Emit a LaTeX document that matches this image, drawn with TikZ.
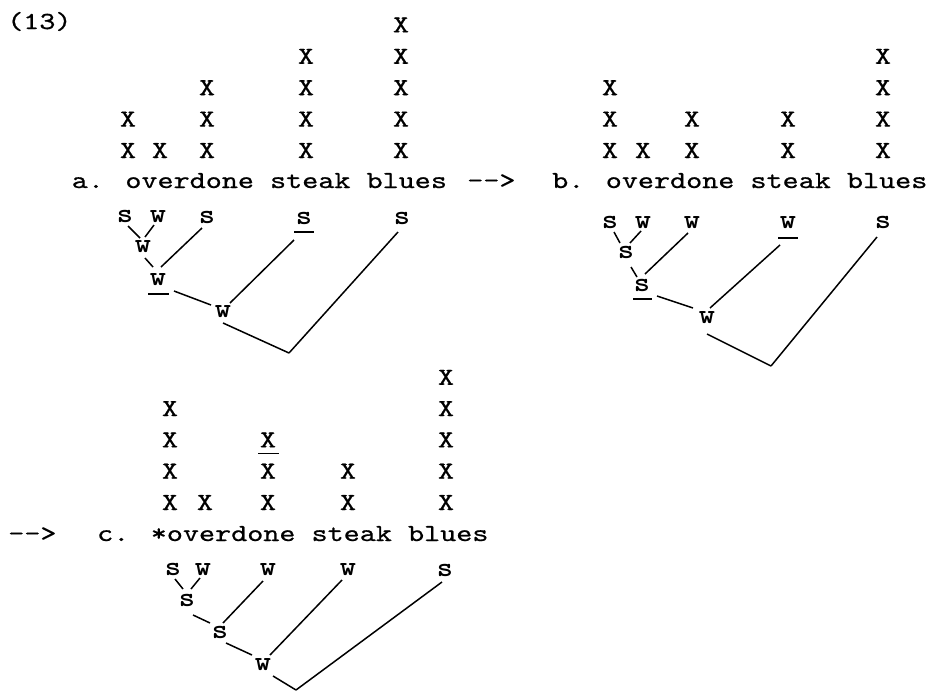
\documentclass[tikz,border=0pt]{standalone}
\usepackage{fontspec}
\usetikzlibrary{calc}
\newfontfamily\twfont{lmmono10-regular.otf}[FakeStretch=1.25,FakeBold=0.7]
\newfontfamily\twlab{lmmonolt10-bold.otf}[FakeStretch=1.12]
\tikzset{
  txt/.style={font={\twfont\fontsize{24.5}{28}\selectfont}, inner sep=0pt, anchor=base west},
  xm/.style={font={\twfont\fontsize{24.5}{28}\selectfont}, inner sep=0pt, anchor=base},
  lab/.style={font={\twlab\fontsize{27.5}{30}\selectfont}, inner sep=0pt, text height=11.8pt, text depth=0pt},
  edge/.style={line width=1.5pt},
  ul/.style={line width=1.7pt}
}
\begin{document}
\begin{tikzpicture}[x=1pt,y=-1pt]
\useasboundingbox (0,0) rectangle (927,691);
% ---------- texts ----------
\node[txt] (t13) at (7,29) {(13)};
\node[txt] (ta) at (71.6,188) {a. overdone steak blues};
\node[txt] (arr1) at (467,188) {-{}-{}>};
\node[txt] (tb) at (552,188) {b. overdone steak blues};
\node[txt] (arr2) at (8,541) {-{}-{}>};
\node[txt] (tc) at (97,541) {c. *overdone steak blues};
% ---------- grids ----------
\foreach \cx/\n [count=\i] in {128/2,160/1,207/3,306/4,401/5}
  \foreach \r in {1,...,\n}
    \node[xm] (aX\i-\r) at ({\cx},{158-31.4*(\r-1)}) {X};
\foreach \cx/\n [count=\i] in {610/3,643/1,692/2,788/2,883/4}
  \foreach \r in {1,...,\n}
    \node[xm] (bX\i-\r) at ({\cx},{158-31.4*(\r-1)}) {X};
\foreach \cx/\n [count=\i] in {170/4,205/1,268/3,348/2,446/5}
  \foreach \r in {1,...,\n}
    \node[xm] (cX\i-\r) at ({\cx},{510-31.3*(\r-1)}) {X};
\draw[ul] ($(cX3-3.base)+(-10,6)$) -- ($(cX3-3.base)+(11,6)$);
% ---------- tree a ----------
\node[lab] (a1) at (125,217) {s};
\node[lab] (a2) at (158,217) {w};
\node[lab] (a3) at (207,218) {s};
\node[lab] (a4) at (304,219) {s};
\node[lab] (a5) at (402,219) {s};
\node[lab] (an1) at (143,247) {w};
\node[lab] (an2) at (158,280) {w};
\node[lab] (an3) at (223,312) {w};
\coordinate (ar) at (289,353);
\draw[ul] ($(a4)+(-10,13)$) -- ($(a4)+(10,13)$);
\draw[ul] ($(an2)+(-10,14)$) -- ($(an2)+(11,14)$);
\draw[edge] ($(a1)+(3,9)$) -- ($(an1)+(-3,-9)$);
\draw[edge] ($(a2)+(-4,8)$) -- ($(an1)+(2,-10)$);
\draw[edge] ($(an1)+(2,11)$) -- ($(an2)+(-5,-13)$);
\draw[edge] ($(a3)+(-5,10)$) -- ($(an2)+(3,-13)$);
\draw[edge] ($(an2)+(16,11)$) -- ($(an3)+(-12,-7)$);
\draw[edge] ($(a4)+(-10,21)$) -- ($(an3)+(7,-9)$);
\draw[edge] ($(an3)+(0,11)$) -- (ar);
\draw[edge] ($(a5)+(-4,13)$) -- (ar);
% ---------- tree b ----------
\node[lab] (b1) at (610,223) {s};
\node[lab] (b2) at (643,223) {w};
\node[lab] (b3) at (692,223) {w};
\node[lab] (b4) at (788,223) {w};
\node[lab] (b5) at (883,223) {s};
\node[lab] (bn1) at (626,253) {s};
\node[lab] (bn2) at (642,286) {s};
\node[lab] (bn3) at (707,318) {w};
\coordinate (br) at (771,366);
\draw[ul] ($(b4)+(-10,15)$) -- ($(b4)+(10,15)$);
\draw[ul] ($(bn2)+(-9,13)$) -- ($(bn2)+(10,13)$);
\draw[edge] ($(b1)+(4,9)$) -- ($(bn1)+(-6,-10)$);
\draw[edge] ($(b2)+(-2,8)$) -- ($(bn1)+(4,-10)$);
\draw[edge] ($(bn1)+(5,14)$) -- ($(bn2)+(-5,-9)$);
\draw[edge] ($(b3)+(-4,10)$) -- ($(bn2)+(3,-12)$);
\draw[edge] ($(bn2)+(15,10)$) -- ($(bn3)+(-14,-10)$);
\draw[edge] ($(b4)+(-8,22)$) -- ($(bn3)+(3,-10)$);
\draw[edge] ($(bn3)+(0,16)$) -- (br);
\draw[edge] ($(b5)+(-6,14)$) -- (br);
% ---------- tree c ----------
\node[lab] (c1) at (173,570) {s};
\node[lab] (c2) at (203,570) {w};
\node[lab] (c3) at (268,570) {w};
\node[lab] (c4) at (348,570) {w};
\node[lab] (c5) at (445,571) {s};
\node[lab] (cn1) at (187,601) {s};
\node[lab] (cn2) at (220,633) {s};
\node[lab] (cn3) at (263,665) {w};
\coordinate (cr) at (296,690);
\draw[edge] ($(c1)+(2,9)$) -- ($(cn1)+(-4,-12)$);
\draw[edge] ($(c2)+(-3,8)$) -- ($(cn1)+(4,-12)$);
\draw[edge] ($(cn1)+(6,14)$) -- ($(cn2)+(-10,-10)$);
\draw[edge] ($(c3)+(-5,11)$) -- ($(cn2)+(3,-10)$);
\draw[edge] ($(cn2)+(6,10)$) -- ($(cn3)+(-11,-10)$);
\draw[edge] ($(c4)+(-6,10)$) -- ($(cn3)+(7,-10)$);
\draw[edge] ($(cn3)+(10,11)$) -- (cr);
\draw[edge] ($(c5)+(-3,11)$) -- (cr);
\end{tikzpicture}
\end{document}
